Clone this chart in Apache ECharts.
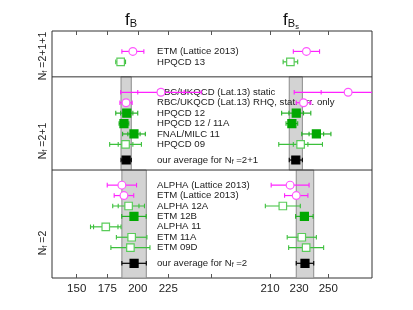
<!DOCTYPE html>
<html><head><meta charset="utf-8">
<script src="https://cdn.jsdelivr.net/npm/echarts@6/dist/echarts.min.js"></script>
<style>html,body{margin:0;padding:0;background:#fff}#c{width:413px;height:310px}</style>
</head><body><div id="c"></div>
<script>
// ---------------- data ----------------
// kinds: 0 = conference proceeding (magenta circle), 1 = green filled square, 2 = green open square
const labels211 = ['ETM (Lattice 2013)', 'HPQCD 13'];
const kinds211  = [0, 2];
const fB211     = [196, 186];
const fB211Err  = [9, 4];
const fB211Stat = [9, 4];
const fBs211     = [235, 224];
const fBs211Err  = [9, 5];
const fBs211Stat = [9, 5];

const labels21 = ['RBC/UKQCD (Lat.13) static', 'RBC/UKQCD (Lat.13) RHQ, stat. err. only',
                  'HPQCD 12', 'HPQCD 12 / 11A', 'FNAL/MILC 11', 'HPQCD 09'];
const kinds21  = [0, 0, 1, 1, 1, 2];
const fB21     = [219, 190.4, 191, 188.7, 196.9, 190];
const fB21Err  = [33, 5, 9, 4, 9.3, 13];
const fB21Stat = [19, 5, 5, 4, 5, 6];
const fBs21     = [263.6, 233, 228, 225, 241.8, 231];
const fBs21Err  = [37, 5, 10, 4, 10, 15];
const fBs21Stat = [18.5, 5, 5, 4, 5, 5];

const labels2 = ['ALPHA (Lattice 2013)', 'ETM (Lattice 2013)', 'ALPHA 12A', 'ETM 12B',
                 'ALPHA 11', 'ETM 11A', 'ETM 09D'];
const kinds2  = [0, 0, 2, 1, 2, 2, 2];
const fB2     = [187, 188.7, 192.5, 196.9, 173.8, 195, 194];
const fB2Err  = [12, 8, 13, 10, 12.5, 12.5, 16];
const fB2Stat = [12, 8, 8.5, 10, 10, 12.5, 16];
const fBs2     = [223.8, 228, 218.8, 233.6, null, 231.8, 234.8];
const fBs2Err  = [13, 8, 12, 6, null, 10, 12];
const fBs2Stat = [13, 8, 12, 6, null, 10, 12];

const avgLabels = ['our average for N{s|f} =2+1', 'our average for N{s|f} =2'];
const fBAvg     = [190.5, 197];
const fBAvgErr  = [4.2, 10];
const fBsAvg    = [227.7, 234];
const fBsAvgErr = [4.5, 6];

const panelLabels = ['N{s|f} =2+1+1', 'N{s|f} =2+1', 'N{s|f} =2'];
const fBTicks = [150, 175, 200, 225];
const fBsTicks = [170, 210, 230, 250];
const fBsTickLabels = [210, 230, 250];

// ---------------- layout (row slots on a hidden value axis) ----------------
const Y_TOP = 23.7;
const rows = [];
function addRows(labels, kinds, fb, fbe, fbst, fbs, fbse, fbsst, yStart) {
  let y = yStart;
  labels.forEach((l, i) => {
    rows.push({label: l, y, kind: kinds[i],
      fB: fb[i], fBE: fbe[i], fBS: fbst[i],
      fBs: fbs[i], fBsE: fbse[i], fBsS: fbsst[i]});
    y -= 1;
  });
  return y + 1;
}
let last1 = addRows(labels211, kinds211, fB211, fB211Err, fB211Stat, fBs211, fBs211Err, fBs211Stat, Y_TOP - 1.96);
const div1 = last1 - 1.44;
let last2 = addRows(labels21, kinds21, fB21, fB21Err, fB21Stat, fBs21, fBs21Err, fBs21Stat, div1 - 1.48);
const avg1Y = last2 - 1.5;
const div2 = avg1Y - 0.96;
let last3 = addRows(labels2, kinds2, fB2, fB2Err, fB2Stat, fBs2, fBs2Err, fBs2Stat, div2 - 1.45);
const avg2Y = last3 - 1.5;
const bandTop = [div1, div2];
const bandBot = [div2, 0];
rows.push({label: avgLabels[0], y: avg1Y, kind: 3, fB: fBAvg[0], fBE: fBAvgErr[0], fBS: fBAvgErr[0], fBs: fBsAvg[0], fBsE: fBsAvgErr[0], fBsS: fBsAvgErr[0]});
rows.push({label: avgLabels[1], y: avg2Y, kind: 3, fB: fBAvg[1], fBE: fBAvgErr[1], fBS: fBAvgErr[1], fBs: fBsAvg[1], fBsE: fBsAvgErr[1], fBsS: fBsAvgErr[1]});

// ---------------- styles ----------------
const FONT = "'Liberation Sans', Arial, sans-serif";
const STY = [
  {line: '#ff22ff', edge: '#ff55ff', fill: '#ffffff', sym: 'circle', size: 3.9},
  {line: '#22b022', edge: '#00a800', fill: '#00a800', sym: 'square', size: 8},
  {line: '#3cc03c', edge: '#5acc5a', fill: '#ffffff', sym: 'square', size: 7.5},
  {line: '#000000', edge: '#000000', fill: '#000000', sym: 'square', size: 8}
];
const SUB = {s: {fontSize: 7, padding: [4, 0, 0, 0], fontFamily: FONT, fill: '#222'}};

function pointData(key) {
  return rows.filter(r => r[key] != null).map(r => [
    r[key], r.y, r[key] - r[key + 'E'], r[key] + r[key + 'E'],
    r[key] - r[key + 'S'], r[key] + r[key + 'S'], r.kind]);
}

function renderPoint(params, api) {
  const cs = params.coordSys;
  const xMax = cs.x + cs.width, xMin = cs.x;
  const v = api.value(0), yv = api.value(1);
  const st = STY[api.value(6)];
  const c = api.coord([v, yv]);
  const lo = api.coord([api.value(2), yv])[0], hi = api.coord([api.value(3), yv])[0];
  const slo = api.coord([api.value(4), yv])[0], shi = api.coord([api.value(5), yv])[0];
  const yy = c[1];
  const ch = [];
  const loC = Math.max(lo, xMin), hiC = Math.min(hi, xMax);
  ch.push({type: 'line', shape: {x1: loC, y1: yy, x2: hiC, y2: yy}, style: {stroke: st.line, lineWidth: 1.2}});
  const caps = [];
  if (lo >= xMin) caps.push(lo);
  if (hi <= xMax) caps.push(hi);
  if (Math.abs(slo - lo) > 1) caps.push(slo);
  if (Math.abs(shi - hi) > 1 && shi <= xMax) caps.push(shi);
  caps.forEach(x => ch.push({type: 'line', shape: {x1: x, y1: yy - 2.3, x2: x, y2: yy + 2.3}, style: {stroke: st.line, lineWidth: 1.1}}));
  if (st.sym === 'circle') {
    ch.push({type: 'circle', shape: {cx: c[0], cy: yy, r: st.size}, style: {fill: st.fill, stroke: st.edge, lineWidth: 1.2}});
  } else {
    const s = st.size;
    ch.push({type: 'rect', shape: {x: c[0] - s / 2, y: yy - s / 2, width: s, height: s}, style: {fill: st.fill, stroke: st.edge, lineWidth: 1.2}});
  }
  return {type: 'group', children: ch};
}

function renderBand(params, api) {
  const a = api.coord([api.value(0), api.value(2)]);
  const b = api.coord([api.value(1), api.value(3)]);
  return {type: 'rect', shape: {x: a[0], y: a[1], width: b[0] - a[0], height: b[1] - a[1]},
    style: {fill: '#d3d3d3', stroke: '#8c8c8c', lineWidth: 1}};
}

function renderDivider(params, api) {
  const cs = params.coordSys;
  const y = api.coord([0, api.value(0)])[1];
  return {type: 'line', shape: {x1: cs.x, y1: y, x2: cs.x + cs.width, y2: y}, style: {stroke: '#333', lineWidth: 1}};
}

function renderLabel(params, api) {
  const cs = params.coordSys;
  const y = api.coord([0, api.value(0)])[1];
  const r = rows[api.value(1)];
  return {type: 'text', x: cs.x + 105, y: y,
    style: {text: r.label, fill: '#222', fontSize: 9.6, fontFamily: FONT,
      verticalAlign: 'middle', align: 'left', rich: SUB}};
}

const X0 = {min: 129.77, max: 391.85};
const X1 = {min: 60.43, max: 279.98};
function xAx(range, pos, ticks, labels) {
  return {type: 'value', min: range.min, max: range.max, position: pos,
    axisLine: {show: false}, splitLine: {show: false},
    axisTick: {show: true, inside: true, length: 4, customValues: ticks, lineStyle: {color: '#555', width: 1}},
    axisLabel: labels ? {show: true, customValues: labels, margin: 5, fontSize: 11.5, color: '#222', fontFamily: FONT} : {show: false}};
}

const TITLE_RICH = {
  b: {fontSize: 11, padding: [7, 0, 0, 0], fontFamily: FONT, fill: '#111'},
  c: {fontSize: 7.5, padding: [13, 0, 0, 0], fontFamily: FONT, fill: '#111'}
};
const PANEL_SUB = {s: {fontSize: 7.5, padding: [4, 0, 0, 0], fontFamily: FONT, fill: '#222'}};

const chart = echarts.init(document.getElementById('c'), null, {renderer: 'canvas'});
chart.setOption({
  animation: false,
  backgroundColor: '#fff',
  grid: {left: 52, right: 41, top: 31, bottom: 32, show: true, borderColor: '#333', borderWidth: 1},
  xAxis: [
    xAx(X0, 'bottom', fBTicks, fBTicks),
    xAx(X1, 'bottom', fBsTicks, fBsTickLabels),
    xAx(X0, 'top', fBTicks, null),
    xAx(X1, 'top', fBsTicks, null)
  ],
  yAxis: {type: 'value', min: 0, max: Y_TOP, show: false},
  graphic: [
    {type: 'text', x: 131, y: 20, style: {text: 'f{b|B}', fontSize: 17, fontFamily: FONT, fill: '#111', align: 'center', verticalAlign: 'middle', rich: TITLE_RICH}},
    {type: 'text', x: 291, y: 20, style: {text: 'f{b|B}{c|s}', fontSize: 17, fontFamily: FONT, fill: '#111', align: 'center', verticalAlign: 'middle', rich: TITLE_RICH}},
    {type: 'text', x: 43, y: 56, rotation: Math.PI / 2, style: {text: panelLabels[0], fontSize: 10.5, fontFamily: FONT, fill: '#222', align: 'center', verticalAlign: 'middle', rich: PANEL_SUB}},
    {type: 'text', x: 43, y: 141, rotation: Math.PI / 2, style: {text: panelLabels[1], fontSize: 10.5, fontFamily: FONT, fill: '#222', align: 'center', verticalAlign: 'middle', rich: PANEL_SUB}},
    {type: 'text', x: 43, y: 243, rotation: Math.PI / 2, style: {text: panelLabels[2], fontSize: 10.5, fontFamily: FONT, fill: '#222', align: 'center', verticalAlign: 'middle', rich: PANEL_SUB}}
  ],
  series: [
    {type: 'custom', xAxisIndex: 0, z: 1, renderItem: renderBand,
      data: fBAvg.map((v, i) => [v - fBAvgErr[i], v + fBAvgErr[i], bandTop[i], bandBot[i]])},
    {type: 'custom', xAxisIndex: 1, z: 1, renderItem: renderBand,
      data: fBsAvg.map((v, i) => [v - fBsAvgErr[i], v + fBsAvgErr[i], bandTop[i], bandBot[i]])},
    {type: 'custom', xAxisIndex: 0, z: 2, renderItem: renderDivider, data: [[div1], [div2]]},
    {type: 'custom', xAxisIndex: 0, z: 3, renderItem: renderLabel, data: rows.map((r, i) => [r.y, i])},
    {type: 'custom', xAxisIndex: 0, z: 4, renderItem: renderPoint, data: pointData('fB')},
    {type: 'custom', xAxisIndex: 1, z: 4, renderItem: renderPoint, data: pointData('fBs')}
  ]
});
</script>
</body></html>
